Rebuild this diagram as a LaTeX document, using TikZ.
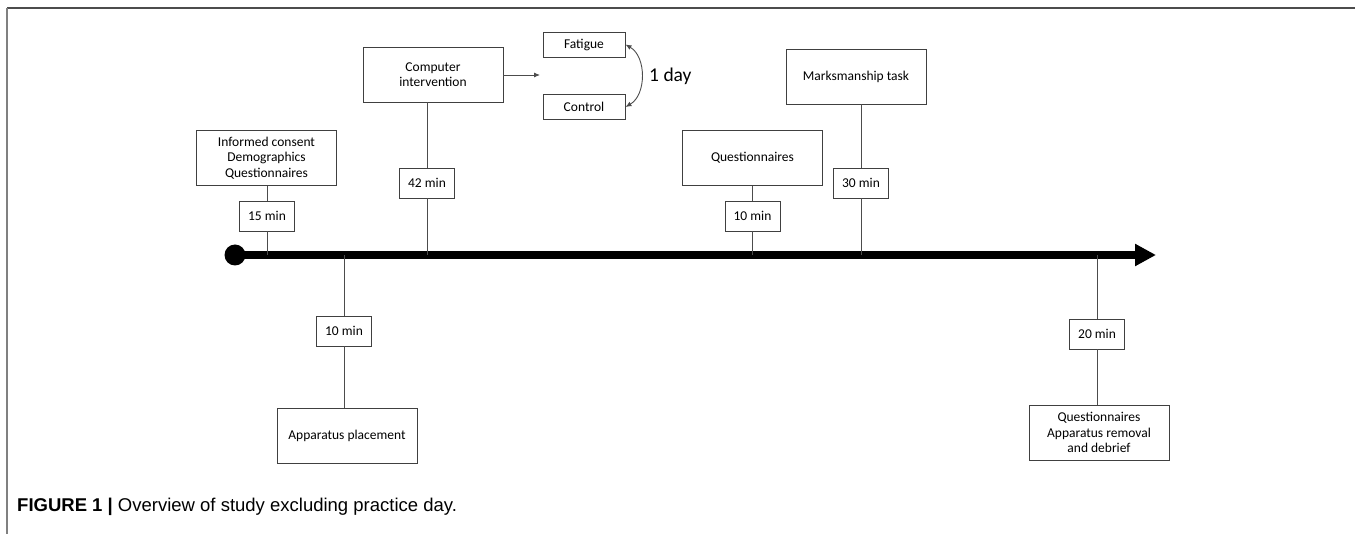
\documentclass[tikz,border=0pt]{standalone}
\usepackage{fontspec}
\setmainfont{Carlito}
\newfontfamily\capfont{Liberation Sans}
\usetikzlibrary{arrows.meta}
\usetikzlibrary{positioning}

\tikzset{
  phase/.style={draw=black!75, line width=0.9pt, minimum width=140pt, minimum height=55pt,
    inner sep=0pt, align=center, font=\fontsize{13.5}{15.5}\selectfont},
  dur/.style={draw=black!75, line width=0.9pt, minimum width=55pt, minimum height=30pt,
    inner sep=0pt, font=\fontsize{13.5}{15.5}\selectfont},
  arm/.style={draw=black!75, line width=0.9pt, minimum width=82pt, minimum height=25pt,
    inner sep=0pt, font=\fontsize{13.5}{15.5}\selectfont},
  stem/.style={black!70, line width=0.9pt},
  smalltip/.tip={Latex[length=6pt, width=5pt]}
}

\begin{document}
\begin{tikzpicture}[x=1pt, y=-1pt] % Pixelkoordinaten, y nach unten

    \useasboundingbox (0,0) rectangle (1355,534);

    % Rahmen
    \draw[black!70, line width=1.6pt] (7,8) -- (1355,8);
    \draw[black!50, line width=1.6pt] (7,8) -- (7,534);

    % Zeitachse
    \coordinate (start) at (235,255);
    \coordinate (end) at (1156,255);
    \draw[line width=8pt, -{Triangle[length=21pt, width=21pt]}] (start) -- (end);
    \fill (start) circle (10.5pt);

    % Phasen oberhalb
    \node[phase] (consent) at (266.5,158) {Informed consent\\Demographics\\Questionnaires};
    \node[dur] (d15) at (267,216) {15 min};
    \node[phase] (computer) at (433,74.5) {Computer\\intervention};
    \node[dur] (d42) at (427,183) {42 min};
    \node[phase] (quest) at (752.5,158) {Questionnaires};
    \node[dur] (d10b) at (752.5,216) {10 min};
    \node[phase] (marks) at (856,76.5) {Marksmanship task};
    \node[dur] (d30) at (861,183) {30 min};

    % Phasen unterhalb
    \node[dur] (d10a) at (344,331) {10 min};
    \node[phase] (apparatus) at (347,436) {Apparatus placement};
    \node[dur] (d20) at (1097,334) {20 min};
    \node[phase] (debrief) at (1099,432.5) {Questionnaires\\Apparatus removal\\and debrief};

    % Bedingungen
    \node[arm] (fatigue) at (584,44.5) {Fatigue};
    \node[arm] (control) at (584,107) {Control};
    \coordinate (split) at (540,75);
    \draw[stem, -smalltip] (computer.east |- split) -- (split);
    \draw[stem, smalltip-smalltip] (fatigue.east) to[bend left=60] (control.east);
    \node[anchor=west, inner sep=0pt, font=\fontsize{19.5}{22}\selectfont] (gap) at (649,76) {1 day};

    % Verbindungen zur Zeitachse
    \foreach \d/\p in {d15/consent, d42/computer, d10b/quest, d30/marks} {
        \draw[stem] (\d.north) -- (\d.north |- \p.south);
        \draw[stem] (\d.south) -- (\d.south |- start);
    }
    \foreach \d/\p in {d10a/apparatus, d20/debrief} {
        \draw[stem] (\d.north) -- (\d.north |- start);
        \draw[stem] (\d.south) -- (\d.south |- \p.north);
    }

    % Bildunterschrift
    \node[anchor=base west, inner sep=0pt, font=\capfont\fontsize{18.5}{22}\selectfont] (caption) at (17,511)
        {\textbf{FIGURE 1 |} Overview of study excluding practice day.};

\end{tikzpicture}
\end{document}
